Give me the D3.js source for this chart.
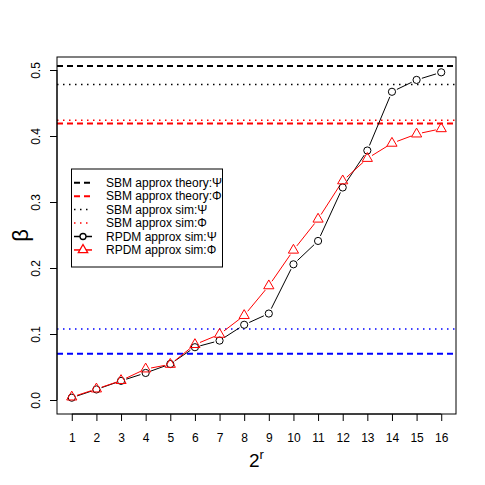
<!DOCTYPE html>
<html><head><meta charset="utf-8">
<script src="https://cdn.jsdelivr.net/npm/d3@7"></script>
<style>body{margin:0;background:#fff}svg{display:block}</style>
</head><body>
<script>
const xValues = [1,2,3,4,5,6,7,8,9,10,11,12,13,14,15,16];
const psiSim = [0.0035,0.016,0.029,0.041,0.0545,0.080,0.090,0.114,0.131,0.2056,0.241,0.322,0.378,0.467,0.485,0.4965];
const phiSim = [0.0045,0.0167,0.0295,0.047,0.054,0.084,0.0995,0.128,0.173,0.227,0.274,0.332,0.366,0.389,0.403,0.411];
const hLineValues = [0.506, 0.419, 0.478, 0.424, 0.0702, 0.1076];
const hLineNames = ["SBM approx theory:\u03A8","SBM approx theory:\u03A6","SBM approx sim:\u03A8","SBM approx sim:\u03A6","",""];
const yTicks = [0.0,0.1,0.2,0.3,0.4,0.5];
const legendLabels = ["SBM approx theory:\u03A8","SBM approx theory:\u03A6","SBM approx sim:\u03A8","SBM approx sim:\u03A6","RPDM approx sim:\u03A8","RPDM approx sim:\u03A6"];

const W=485,H=485;
const L=57,R=456,T=57,B=414;
const svg=d3.select("body").append("svg").attr("width",W).attr("height",H);
const x=d3.scaleLinear().domain([0.4,16.6]).range([L,R]);
const y=d3.scaleLinear().domain([-0.0212,0.5197]).range([B,T]);
const font="Liberation Sans, Arial, Helvetica, sans-serif";

const hStyles=[
 {c:"#000",d:"6,4",w:2},
 {c:"#ff0000",d:"6,4",w:2},
 {c:"#000",d:"1.5,4.5",w:1.5},
 {c:"#ff0000",d:"1.5,4.5",w:1.5},
 {c:"#0000ff",d:"6,4",w:2},
 {c:"#0000ff",d:"1.5,4.5",w:1.5}
];
hLineValues.forEach((v,i)=>{
  svg.append("line").attr("x1",L).attr("x2",R).attr("y1",y(v)).attr("y2",y(v))
   .attr("stroke",hStyles[i].c).attr("stroke-width",hStyles[i].w).attr("stroke-dasharray",hStyles[i].d);
});

// series with gaps (type="b")
function drawSeries(vals,color,gap){
  const g=svg.append("g");
  for(let i=0;i<vals.length-1;i++){
    const x1=x(xValues[i]),y1=y(vals[i]),x2=x(xValues[i+1]),y2=y(vals[i+1]);
    const dx=x2-x1,dy=y2-y1,len=Math.hypot(dx,dy);
    if(len<=2*gap) continue;
    const ux=dx/len,uy=dy/len;
    g.append("line").attr("x1",x1+ux*gap).attr("y1",y1+uy*gap).attr("x2",x2-ux*gap).attr("y2",y2-uy*gap)
     .attr("stroke",color).attr("stroke-width",1);
  }
  return g;
}
drawSeries(psiSim,"#000",5.5);
drawSeries(phiSim,"#ff0000",5.5);
svg.append("g").selectAll("circle").data(psiSim).join("circle")
  .attr("cx",(d,i)=>x(xValues[i])).attr("cy",d=>y(d)).attr("r",3.6)
  .attr("fill","none").attr("stroke","#000").attr("stroke-width",1);
const tri=d3.symbol().type(d3.symbolTriangle).size(45);
svg.append("g").selectAll("path").data(phiSim).join("path")
  .attr("d",tri).attr("transform",(d,i)=>`translate(${x(xValues[i])},${y(d)})`)
  .attr("fill","none").attr("stroke","#ff0000").attr("stroke-width",1);

// box
svg.append("rect").attr("x",L).attr("y",T).attr("width",R-L).attr("height",B-T)
  .attr("fill","none").attr("stroke","#000").attr("stroke-width",1);

// axes
const xa=svg.append("g").attr("transform",`translate(0,${B})`)
  .call(d3.axisBottom(x).tickValues(xValues).tickSize(7).tickPadding(12).tickFormat(d3.format("d")));
const ya=svg.append("g").attr("transform",`translate(${L},0)`)
  .call(d3.axisLeft(y).tickValues(yTicks).tickSize(7).tickPadding(8).tickFormat(d3.format(".1f")));
[xa,ya].forEach(a=>{a.select(".domain").remove();a.selectAll("text").attr("font-family",font).attr("font-size",12).attr("fill","#000");});
ya.selectAll(".tick text").attr("text-anchor","middle").attr("dy",0).attr("x",0)
  .attr("transform","translate(-17,0) rotate(-90)");
// axis lines between first and last tick
svg.append("line").attr("x1",x(1)).attr("x2",x(16)).attr("y1",B).attr("y2",B).attr("stroke","#000");
svg.append("line").attr("x1",L).attr("x2",L).attr("y1",y(0)).attr("y2",y(0.5)).attr("stroke","#000");

// axis titles
const xt=svg.append("text").attr("x",x(8.5)).attr("y",467).attr("text-anchor","middle")
  .attr("font-family",font).attr("font-size",19);
xt.append("tspan").text("2");
xt.append("tspan").text("r").attr("font-size",13).attr("dy",-8);
svg.append("text").attr("transform",`translate(28,${(T+B)/2}) rotate(-90)`).attr("text-anchor","middle")
  .attr("font-family",font).attr("font-size",22).text("\u03B2");

// legend
const lg=svg.append("g");
lg.append("rect").attr("x",71.5).attr("y",169).attr("width",151).attr("height",98)
  .attr("fill","#fff").attr("stroke","#000").attr("stroke-width",1);
const legStyles=[hStyles[0],hStyles[1],hStyles[2],hStyles[3],{c:"#000",d:null,w:1.5},{c:"#ff0000",d:null,w:1.5}];
legendLabels.forEach((lab,i)=>{
  const yy=182.7+i*13.45;
  const s=legStyles[i];
  const ln=lg.append("line").attr("x1",74).attr("x2",92).attr("y1",yy).attr("y2",yy)
    .attr("stroke",s.c).attr("stroke-width",s.w);
  if(s.d) ln.attr("stroke-dasharray",s.d);
  if(i===4) lg.append("circle").attr("cx",83).attr("cy",yy).attr("r",3).attr("fill","#fff").attr("stroke","#000").attr("stroke-width",1.3);
  if(i===5) lg.append("path").attr("d",d3.symbol().type(d3.symbolTriangle).size(38)).attr("transform",`translate(83,${yy})`).attr("fill","#fff").attr("stroke","#ff0000").attr("stroke-width",1.3);
  lg.append("text").attr("x",106).attr("y",yy).attr("dy","0.35em").attr("font-family",font).attr("font-size",12).text(lab);
});
</script>
</body></html>
